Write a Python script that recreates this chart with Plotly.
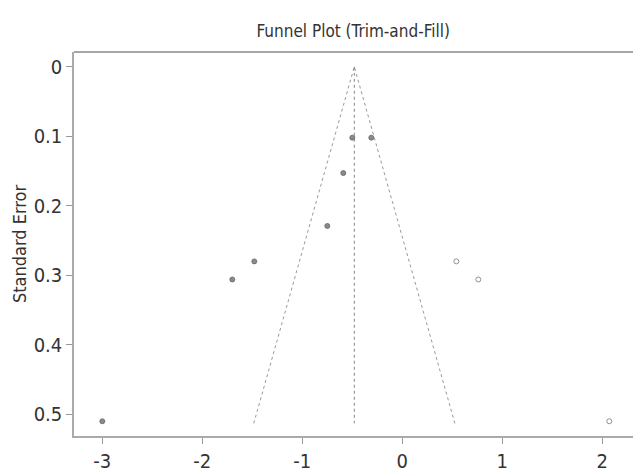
import plotly.graph_objects as go

# Observed studies: effect size and standard error
obs_effect = [-0.50, -0.31, -0.59, -0.75, -1.48, -1.70, -3.00]
obs_se = [0.102, 0.102, 0.153, 0.229, 0.280, 0.306, 0.510]

# Imputed studies added by trim-and-fill
fill_effect = [0.54, 0.76, 2.07]
fill_se = [0.280, 0.306, 0.510]

# Pooled estimate (funnel centre) and funnel depth
center = -0.48
se_max = 0.513
z = 1.96

x_ticks = [-3, -2, -1, 0, 1, 2]
y_ticks = [0, 0.1, 0.2, 0.3, 0.4, 0.5]

font = "Liberation Sans Narrow, Arial Narrow, DejaVu Sans Condensed, Liberation Sans, sans-serif"

fig = go.Figure()

# Funnel (pseudo confidence region)
fig.add_trace(go.Scatter(
    x=[center - z * se_max, center, center + z * se_max],
    y=[se_max, 0, se_max],
    mode="lines",
    line=dict(color="#8c8c8c", width=0.9, dash="dot"),
    hoverinfo="skip", showlegend=False,
))
# Vertical line at the pooled estimate
fig.add_trace(go.Scatter(
    x=[center, center], y=[0, se_max],
    mode="lines",
    line=dict(color="#777777", width=0.9, dash="dot"),
    hoverinfo="skip", showlegend=False,
))
# Observed studies
fig.add_trace(go.Scatter(
    x=obs_effect, y=obs_se, mode="markers",
    marker=dict(size=5, color="#8a8a8a", line=dict(color="#666666", width=0.8)),
    showlegend=False,
))
# Filled studies
fig.add_trace(go.Scatter(
    x=fill_effect, y=fill_se, mode="markers",
    marker=dict(size=5, color="white", line=dict(color="#777777", width=0.8)),
    showlegend=False,
))

fig.update_layout(
    width=633, height=473,
    margin=dict(l=74, r=0, t=52, b=31),
    paper_bgcolor="white", plot_bgcolor="white",
    font=dict(family=font, color="#333333"),
    title=dict(text="Funnel Plot (Trim-and-Fill)", x=0.558, xanchor="center",
               y=0.934, yanchor="middle",
               font=dict(family=font, size=17, color="#333333")),
    xaxis=dict(
        range=[-3.283, 2.307], tickvals=x_ticks,
        ticktext=[str(v) for v in x_ticks],
        showgrid=False, zeroline=False,
        showline=True, linecolor="#aaaaaa", linewidth=1.5,
        ticks="outside", ticklen=6, tickcolor="#999999",
        tickfont=dict(size=20, family=font, color="#333333"),
    ),
    yaxis=dict(
        range=[0.5312, -0.02125], tickvals=y_ticks,
        ticktext=["0", "0.1", "0.2", "0.3", "0.4", "0.5"],
        showgrid=False, zeroline=False,
        showline=True, linecolor="#aaaaaa", linewidth=1.5,
        ticks="outside", ticklen=6, tickcolor="#999999",
        tickfont=dict(size=20, family=font, color="#333333"),
        title=dict(text="Standard Error", standoff=2,
                   font=dict(size=18, family=font, color="#333333")),
    ),
)

# Top border of the plotting region
fig.add_shape(type="line", xref="paper", yref="paper", x0=0, x1=1, y0=1, y1=1,
              line=dict(color="#888888", width=1.5))

fig.write_html("out.html")
